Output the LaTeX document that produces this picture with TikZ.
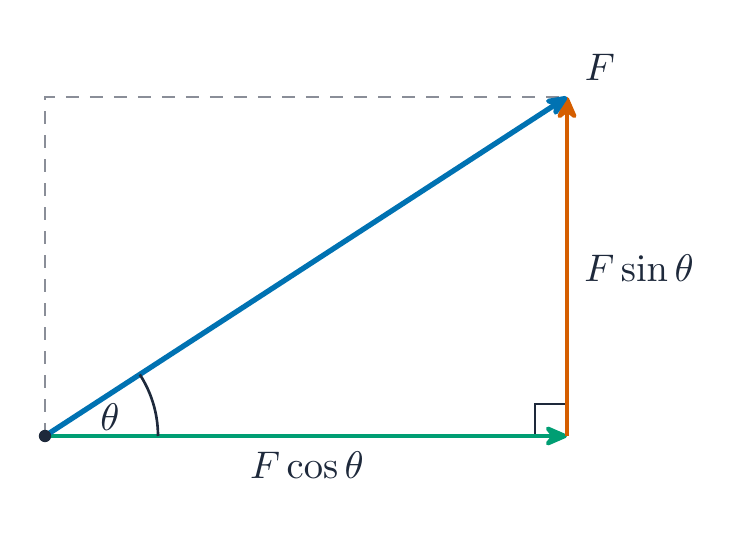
\documentclass[tikz,border=0pt]{standalone}
\usetikzlibrary{arrows.meta}
\definecolor{vecblue}{HTML}{0072B2}
\definecolor{vecorange}{HTML}{D55E00}
\definecolor{vecgreen}{HTML}{009E73}
\definecolor{ink}{HTML}{1E293B}
\definecolor{guide}{HTML}{8A8E98}
\tikzset{
  vec/.style={line width=#1,-{Stealth[length=2.9mm,width=2.5mm,inset=1.0mm,round]}},
  lbl/.style={text=ink,font=\fontsize{11.2}{14}\selectfont},
}
\begin{document}
\begin{tikzpicture}
  \useasboundingbox (0,0) rectangle (7.5,5.34);

  \coordinate (O) at (0.45,0.98);
  \coordinate (F) at (5.67,4.37);
  \coordinate (Fx) at (5.67,0.98);
  \coordinate (C) at (0.45,4.37);

  %components box
  \draw[guide,line width=0.75pt,dash pattern=on 1.3mm off 1.1mm] (O) -- (C) -- (F);

  %right angle
  \draw[ink,line width=0.75pt] (Fx) ++(-0.32,0) -- ++(0,0.32) -- ++(0.32,0);

  %components
  \draw[vecgreen,vec=1.2pt] (O) -- (Fx);
  \draw[vecorange,vec=1.2pt] (Fx) -- (F);

  %force
  \draw[vecblue,vec=1.5pt] (O) -- (F);

  %angle
  \draw[ink,line width=0.75pt] (O) ++(1.13,0) arc (0:33:1.13);
  \fill[ink] (O) circle (0.062);

  \node[lbl] (theta) at (1.10,1.17) {$\theta$};
  \node[lbl] (Flbl) at (6.00,4.67) {$F$};
  \node[lbl,anchor=west] (Fsin) at (5.72,2.66) {$F\sin\theta$};
  \node[lbl] (Fcos) at (3.07,0.69) {$F\cos\theta$};
\end{tikzpicture}
\end{document}
